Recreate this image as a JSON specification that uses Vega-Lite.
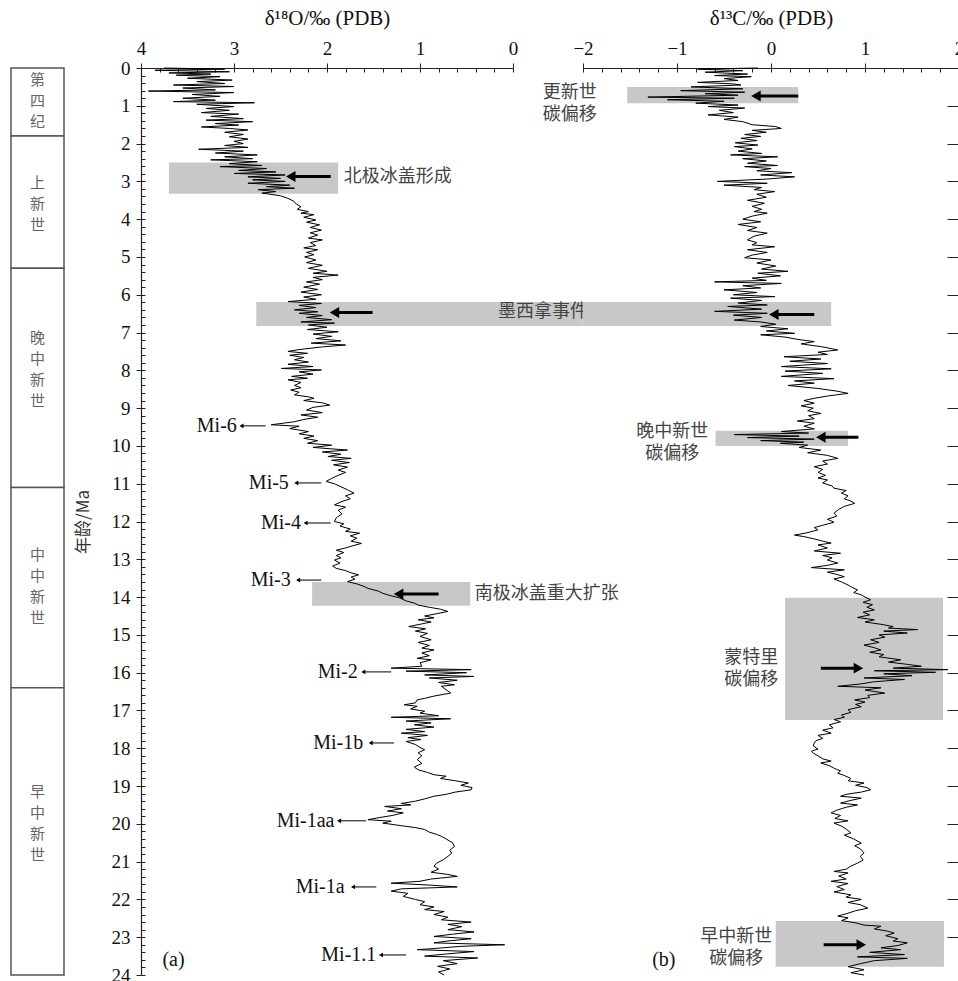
{
"$schema": "https://vega.github.io/schema/vega-lite/v6.json",
"padding": {"left": 10, "top": 7, "right": 0, "bottom": 0},
"autosize": {"type": "pad"},
"background": "white",
"config": {
  "view": {"stroke": null},
  "font": "Liberation Serif",
  "axis": {"domainColor": "#222", "tickColor": "#222", "labelColor": "#111", "titleColor": "#111", "labelFont": "Liberation Serif", "titleFont": "Liberation Serif", "labelFontSize": 19, "titleFontSize": 21, "titleFontWeight": "normal", "grid": false, "domainWidth": 1.2, "tickWidth": 1, "labelFlush": false, "labelOverlap": false}
},
"datasets": {
  "epochs": [
    {"s": 0, "e": 1.8, "m": 0.32, "t": "第\n四\n纪"},
    {"s": 1.8, "e": 5.3, "m": 3.04, "t": "上\n新\n世"},
    {"s": 5.3, "e": 11.1, "m": 7.14, "t": "晚\n中\n新\n世"},
    {"s": 11.1, "e": 16.4, "m": 12.88, "t": "中\n中\n新\n世"},
    {"s": 16.4, "e": 24, "m": 19.15, "t": "早\n中\n新\n世"}
  ],
  "bandsA": [
    {"x1": 3.70, "x2": 1.88, "y1": 2.5, "y2": 3.33},
    {"x1": 2.76, "x2": -0.75, "y1": 6.19, "y2": 6.83},
    {"x1": 2.16, "x2": 0.46, "y1": 13.6, "y2": 14.23}
  ],
  "bandsB": [
    {"x1": -1.53, "x2": 0.29, "y1": 0.5, "y2": 0.93},
    {"x1": -2.0, "x2": 0.64, "y1": 6.19, "y2": 6.83},
    {"x1": -0.59, "x2": 0.82, "y1": 9.6, "y2": 10.0},
    {"x1": 0.15, "x2": 1.83, "y1": 14.02, "y2": 17.25},
    {"x1": 0.05, "x2": 1.84, "y1": 22.57, "y2": 23.78}
  ],
  "arrowsA": [
    {"a": 2.87, "tail": 1.96, "head": 2.39},
    {"a": 6.47, "tail": 1.51, "head": 1.92},
    {"a": 13.92, "tail": 0.80, "head": 1.23}
  ],
  "arrowsB": [
    {"a": 0.74, "tail": 0.29, "head": -0.16, "dir": "l"},
    {"a": 6.52, "tail": 0.46, "head": 0.03, "dir": "l"},
    {"a": 9.77, "tail": 0.93, "head": 0.53, "dir": "l"},
    {"a": 15.88, "tail": 0.53, "head": 0.93, "dir": "r"},
    {"a": 23.2, "tail": 0.56, "head": 0.96, "dir": "r"}
  ],
  "mi": [
    {"t": "Mi-6", "a": 9.47, "tail": 2.66, "head": 2.92, "tx": 2.97},
    {"t": "Mi-5", "a": 10.98, "tail": 2.06, "head": 2.33, "tx": 2.41},
    {"t": "Mi-4", "a": 12.04, "tail": 1.96, "head": 2.23, "tx": 2.28},
    {"t": "Mi-3", "a": 13.55, "tail": 2.06, "head": 2.31, "tx": 2.39},
    {"t": "Mi-2", "a": 15.98, "tail": 1.31, "head": 1.61, "tx": 1.67},
    {"t": "Mi-1b", "a": 17.86, "tail": 1.28, "head": 1.53, "tx": 1.61},
    {"t": "Mi-1aa", "a": 19.92, "tail": 1.58, "head": 1.87, "tx": 1.92},
    {"t": "Mi-1a", "a": 21.67, "tail": 1.47, "head": 1.72, "tx": 1.81},
    {"t": "Mi-1.1", "a": 23.47, "tail": 1.15, "head": 1.42, "tx": 1.47}
  ],
  "labelsA": [
    {"x": 1.82, "a": 2.88, "t": "北极冰盖形成"},
    {"x": 0.16, "a": 6.46, "t": "墨西拿事件"},
    {"x": 0.41, "a": 13.92, "t": "南极冰盖重大扩张"}
  ],
  "labelsB": [
    {"x": -2.14, "a": 0.66, "t": "更新世\n碳偏移"},
    {"x": -1.05, "a": 9.63, "t": "晚中新世\n碳偏移"},
    {"x": -0.21, "a": 15.61, "t": "蒙特里\n碳偏移"},
    {"x": -0.37, "a": 22.99, "t": "早中新世\n碳偏移"}
  ],
  "o18": [
    {"a":0.00,"v":3.75},{"a":0.03,"v":3.10},{"a":0.06,"v":3.85},{"a":0.10,"v":3.05},{"a":0.13,"v":3.70},{"a":0.16,"v":3.25},{"a":0.19,"v":3.62},{"a":0.23,"v":3.15},{"a":0.27,"v":3.50},{"a":0.32,"v":3.02},
    {"a":0.36,"v":3.40},{"a":0.41,"v":3.10},{"a":0.45,"v":3.65},{"a":0.49,"v":3.00},{"a":0.53,"v":3.55},{"a":0.58,"v":3.20},{"a":0.61,"v":3.92},{"a":0.65,"v":3.00},{"a":0.70,"v":3.45},{"a":0.75,"v":3.15},
    {"a":0.80,"v":3.55},{"a":0.85,"v":3.20},{"a":0.89,"v":3.65},{"a":0.92,"v":2.78},{"a":0.96,"v":3.40},{"a":1.02,"v":3.00},{"a":1.07,"v":3.30},{"a":1.12,"v":3.05},{"a":1.18,"v":3.35},{"a":1.22,"v":2.95},
    {"a":1.28,"v":3.25},{"a":1.34,"v":2.90},{"a":1.38,"v":3.30},{"a":1.42,"v":2.80},{"a":1.47,"v":3.20},{"a":1.51,"v":2.95},{"a":1.56,"v":3.35},{"a":1.60,"v":3.05},{"a":1.64,"v":2.85},{"a":1.70,"v":3.10},
    {"a":1.76,"v":2.90},{"a":1.82,"v":3.05},{"a":1.88,"v":2.85},{"a":1.94,"v":3.00},{"a":2.00,"v":2.90},{"a":2.05,"v":3.10},{"a":2.10,"v":2.85},{"a":2.15,"v":3.38},{"a":2.20,"v":2.90},{"a":2.25,"v":3.20},
    {"a":2.30,"v":2.75},{"a":2.35,"v":3.10},{"a":2.40,"v":2.80},{"a":2.43,"v":3.25},{"a":2.48,"v":2.75},{"a":2.53,"v":3.05},{"a":2.58,"v":2.70},{"a":2.61,"v":3.15},{"a":2.66,"v":2.65},{"a":2.71,"v":2.95},
    {"a":2.75,"v":2.55},{"a":2.79,"v":3.00},{"a":2.83,"v":2.45},{"a":2.88,"v":2.85},{"a":2.92,"v":2.50},{"a":2.96,"v":2.80},{"a":3.00,"v":2.45},{"a":3.05,"v":2.85},{"a":3.10,"v":2.40},{"a":3.14,"v":2.65},
    {"a":3.18,"v":2.35},{"a":3.22,"v":2.74},{"a":3.27,"v":2.55},{"a":3.31,"v":2.70},{"a":3.38,"v":2.50},{"a":3.45,"v":2.42},{"a":3.52,"v":2.36},{"a":3.60,"v":2.33},{"a":3.67,"v":2.28},{"a":3.74,"v":2.32},
    {"a":3.80,"v":2.20},{"a":3.84,"v":2.28},{"a":3.88,"v":2.14},{"a":3.95,"v":2.25},{"a":4.02,"v":2.12},{"a":4.08,"v":2.22},{"a":4.15,"v":2.08},{"a":4.22,"v":2.18},{"a":4.29,"v":2.06},{"a":4.36,"v":2.18},
    {"a":4.42,"v":2.10},{"a":4.50,"v":2.20},{"a":4.55,"v":2.05},{"a":4.62,"v":2.18},{"a":4.70,"v":2.12},{"a":4.76,"v":2.25},{"a":4.81,"v":2.10},{"a":4.88,"v":2.22},{"a":4.94,"v":2.14},{"a":5.00,"v":2.24},
    {"a":5.08,"v":2.12},{"a":5.15,"v":2.22},{"a":5.22,"v":2.05},{"a":5.30,"v":2.20},{"a":5.38,"v":2.00},{"a":5.43,"v":2.15},{"a":5.48,"v":1.88},{"a":5.54,"v":2.15},{"a":5.60,"v":2.05},{"a":5.66,"v":2.22},
    {"a":5.72,"v":2.08},{"a":5.80,"v":2.25},{"a":5.86,"v":2.10},{"a":5.93,"v":2.28},{"a":6.00,"v":2.06},{"a":6.06,"v":2.25},{"a":6.12,"v":2.12},{"a":6.18,"v":2.42},{"a":6.23,"v":2.06},{"a":6.28,"v":2.30},
    {"a":6.34,"v":2.12},{"a":6.40,"v":2.35},{"a":6.45,"v":2.10},{"a":6.49,"v":2.30},{"a":6.55,"v":2.05},{"a":6.60,"v":2.22},{"a":6.66,"v":1.95},{"a":6.72,"v":2.28},{"a":6.75,"v":1.92},{"a":6.80,"v":2.20},
    {"a":6.86,"v":2.00},{"a":6.92,"v":2.21},{"a":6.98,"v":1.88},{"a":7.04,"v":2.15},{"a":7.10,"v":1.95},{"a":7.16,"v":2.12},{"a":7.22,"v":1.85},{"a":7.28,"v":2.17},{"a":7.33,"v":1.80},{"a":7.38,"v":2.05},
    {"a":7.45,"v":2.30},{"a":7.50,"v":2.42},{"a":7.55,"v":2.21},{"a":7.60,"v":2.40},{"a":7.66,"v":2.25},{"a":7.72,"v":2.35},{"a":7.78,"v":2.20},{"a":7.84,"v":2.42},{"a":7.90,"v":2.15},{"a":7.95,"v":2.49},
    {"a":7.99,"v":2.06},{"a":8.04,"v":2.30},{"a":8.10,"v":2.15},{"a":8.16,"v":2.38},{"a":8.21,"v":2.21},{"a":8.25,"v":2.42},{"a":8.32,"v":2.28},{"a":8.40,"v":2.35},{"a":8.46,"v":2.28},{"a":8.52,"v":2.39},
    {"a":8.58,"v":2.30},{"a":8.65,"v":2.35},{"a":8.70,"v":2.20},{"a":8.74,"v":2.14},{"a":8.80,"v":2.25},{"a":8.86,"v":2.05},{"a":8.92,"v":1.97},{"a":8.98,"v":2.15},{"a":9.05,"v":2.22},{"a":9.12,"v":2.05},
    {"a":9.18,"v":2.28},{"a":9.24,"v":2.10},{"a":9.30,"v":2.25},{"a":9.36,"v":2.35},{"a":9.44,"v":2.60},{"a":9.48,"v":2.30},{"a":9.54,"v":2.40},{"a":9.62,"v":2.20},{"a":9.68,"v":2.30},{"a":9.74,"v":2.14},
    {"a":9.80,"v":2.25},{"a":9.86,"v":2.10},{"a":9.93,"v":2.21},{"a":9.98,"v":1.95},{"a":10.04,"v":2.15},{"a":10.11,"v":1.78},{"a":10.16,"v":2.05},{"a":10.22,"v":1.85},{"a":10.28,"v":1.99},{"a":10.33,"v":1.74},
    {"a":10.38,"v":1.95},{"a":10.44,"v":1.76},{"a":10.50,"v":1.93},{"a":10.56,"v":1.78},{"a":10.64,"v":1.88},{"a":10.70,"v":1.80},{"a":10.78,"v":1.88},{"a":10.86,"v":1.95},{"a":10.94,"v":2.01},{"a":11.00,"v":1.92},
    {"a":11.08,"v":1.85},{"a":11.16,"v":1.78},{"a":11.25,"v":1.71},{"a":11.32,"v":1.80},{"a":11.40,"v":1.75},{"a":11.48,"v":1.85},{"a":11.56,"v":1.92},{"a":11.62,"v":1.80},{"a":11.70,"v":1.88},{"a":11.80,"v":1.84},
    {"a":11.90,"v":1.90},{"a":12.00,"v":1.92},{"a":12.06,"v":1.82},{"a":12.12,"v":1.86},{"a":12.20,"v":1.75},{"a":12.26,"v":1.80},{"a":12.31,"v":1.65},{"a":12.38,"v":1.75},{"a":12.44,"v":1.68},{"a":12.52,"v":1.74},
    {"a":12.58,"v":1.63},{"a":12.64,"v":1.72},{"a":12.70,"v":1.80},{"a":12.76,"v":1.90},{"a":12.82,"v":1.82},{"a":12.90,"v":1.90},{"a":12.96,"v":1.85},{"a":13.02,"v":1.92},{"a":13.10,"v":1.86},{"a":13.18,"v":1.94},
    {"a":13.24,"v":1.90},{"a":13.30,"v":1.80},{"a":13.36,"v":1.74},{"a":13.41,"v":1.66},{"a":13.47,"v":1.74},{"a":13.53,"v":1.70},{"a":13.59,"v":1.78},{"a":13.65,"v":1.68},{"a":13.72,"v":1.60},{"a":13.77,"v":1.56},
    {"a":13.84,"v":1.45},{"a":13.90,"v":1.40},{"a":13.96,"v":1.32},{"a":14.02,"v":1.22},{"a":14.10,"v":1.15},{"a":14.16,"v":1.06},{"a":14.21,"v":1.02},{"a":14.27,"v":0.90},{"a":14.32,"v":0.78},{"a":14.38,"v":0.70},
    {"a":14.44,"v":0.82},{"a":14.50,"v":0.95},{"a":14.55,"v":0.85},{"a":14.60,"v":1.02},{"a":14.66,"v":0.88},{"a":14.72,"v":1.00},{"a":14.78,"v":1.12},{"a":14.84,"v":0.94},{"a":14.90,"v":1.05},{"a":14.96,"v":0.92},
    {"a":15.04,"v":1.00},{"a":15.13,"v":0.88},{"a":15.20,"v":1.02},{"a":15.28,"v":0.90},{"a":15.35,"v":0.98},{"a":15.40,"v":0.85},{"a":15.48,"v":0.98},{"a":15.55,"v":0.90},{"a":15.62,"v":1.03},{"a":15.66,"v":0.88},
    {"a":15.74,"v":1.00},{"a":15.83,"v":0.98},{"a":15.88,"v":1.31},{"a":15.92,"v":0.45},{"a":15.96,"v":1.15},{"a":16.00,"v":0.50},{"a":16.06,"v":0.95},{"a":16.10,"v":0.42},{"a":16.14,"v":0.90},{"a":16.20,"v":0.60},
    {"a":16.26,"v":0.80},{"a":16.32,"v":0.63},{"a":16.36,"v":0.77},{"a":16.45,"v":0.72},{"a":16.54,"v":0.67},{"a":16.62,"v":0.85},{"a":16.68,"v":0.95},{"a":16.72,"v":1.03},{"a":16.80,"v":1.05},{"a":16.85,"v":1.17},
    {"a":16.89,"v":1.03},{"a":16.96,"v":1.10},{"a":17.02,"v":0.95},{"a":17.07,"v":1.00},{"a":17.14,"v":0.80},{"a":17.18,"v":1.31},{"a":17.22,"v":0.67},{"a":17.28,"v":1.15},{"a":17.33,"v":0.88},{"a":17.38,"v":1.06},
    {"a":17.44,"v":0.85},{"a":17.50,"v":1.15},{"a":17.56,"v":0.95},{"a":17.60,"v":1.20},{"a":17.66,"v":0.92},{"a":17.72,"v":1.13},{"a":17.77,"v":0.99},{"a":17.82,"v":1.15},{"a":17.90,"v":1.05},{"a":17.98,"v":1.00},
    {"a":18.04,"v":0.95},{"a":18.12,"v":1.02},{"a":18.20,"v":0.98},{"a":18.30,"v":1.03},{"a":18.40,"v":0.98},{"a":18.50,"v":1.06},{"a":18.57,"v":1.02},{"a":18.64,"v":0.92},{"a":18.70,"v":0.85},{"a":18.74,"v":0.72},
    {"a":18.80,"v":0.78},{"a":18.86,"v":0.62},{"a":18.92,"v":0.48},{"a":18.98,"v":0.56},{"a":19.04,"v":0.44},{"a":19.10,"v":0.45},{"a":19.16,"v":0.62},{"a":19.22,"v":0.72},{"a":19.27,"v":0.85},{"a":19.34,"v":0.95},
    {"a":19.40,"v":1.05},{"a":19.46,"v":1.20},{"a":19.50,"v":1.10},{"a":19.54,"v":1.38},{"a":19.60,"v":1.20},{"a":19.66,"v":1.35},{"a":19.71,"v":1.18},{"a":19.78,"v":1.30},{"a":19.84,"v":1.45},{"a":19.89,"v":1.56},
    {"a":19.93,"v":1.31},{"a":19.98,"v":1.40},{"a":20.05,"v":1.20},{"a":20.10,"v":1.05},{"a":20.15,"v":0.95},{"a":20.22,"v":0.90},{"a":20.28,"v":0.82},{"a":20.33,"v":0.77},{"a":20.40,"v":0.72},{"a":20.50,"v":0.65},
    {"a":20.60,"v":0.63},{"a":20.70,"v":0.68},{"a":20.78,"v":0.66},{"a":20.86,"v":0.70},{"a":20.95,"v":0.75},{"a":21.04,"v":0.82},{"a":21.12,"v":0.85},{"a":21.20,"v":0.80},{"a":21.28,"v":0.88},{"a":21.34,"v":0.70},
    {"a":21.39,"v":0.60},{"a":21.46,"v":0.88},{"a":21.52,"v":1.00},{"a":21.57,"v":1.31},{"a":21.62,"v":0.90},{"a":21.67,"v":0.60},{"a":21.72,"v":1.20},{"a":21.78,"v":1.31},{"a":21.84,"v":1.13},{"a":21.92,"v":1.18},
    {"a":22.00,"v":1.05},{"a":22.06,"v":0.95},{"a":22.14,"v":1.00},{"a":22.20,"v":0.85},{"a":22.27,"v":0.95},{"a":22.32,"v":0.74},{"a":22.40,"v":0.85},{"a":22.47,"v":0.70},{"a":22.54,"v":0.77},{"a":22.60,"v":0.45},
    {"a":22.66,"v":0.70},{"a":22.72,"v":0.55},{"a":22.80,"v":0.70},{"a":22.86,"v":0.42},{"a":22.92,"v":0.65},{"a":22.98,"v":0.85},{"a":23.04,"v":0.45},{"a":23.10,"v":0.70},{"a":23.15,"v":0.85},{"a":23.20,"v":0.09},
    {"a":23.24,"v":0.55},{"a":23.30,"v":0.85},{"a":23.33,"v":1.03},{"a":23.38,"v":0.42},{"a":23.44,"v":0.70},{"a":23.50,"v":0.95},{"a":23.55,"v":0.38},{"a":23.62,"v":0.75},{"a":23.70,"v":0.60},{"a":23.77,"v":0.81},
    {"a":23.84,"v":0.68},{"a":23.92,"v":0.80},{"a":24.00,"v":0.74}
  ],
  "c13": [
    {"a":0.00,"v":-0.14},{"a":0.03,"v":-0.78},{"a":0.07,"v":-0.30},{"a":0.11,"v":-0.70},{"a":0.16,"v":-0.25},{"a":0.20,"v":-0.60},{"a":0.23,"v":-0.21},{"a":0.28,"v":-0.50},{"a":0.33,"v":-0.35},{"a":0.38,"v":-0.78},
    {"a":0.42,"v":-0.40},{"a":0.45,"v":-0.32},{"a":0.50,"v":-0.85},{"a":0.55,"v":-0.30},{"a":0.60,"v":-0.96},{"a":0.64,"v":-0.28},{"a":0.68,"v":-0.70},{"a":0.72,"v":-0.35},{"a":0.77,"v":-1.31},{"a":0.80,"v":-0.39},
    {"a":0.84,"v":-1.10},{"a":0.88,"v":-0.50},{"a":0.93,"v":-0.80},{"a":0.98,"v":-0.35},{"a":1.02,"v":-0.67},{"a":1.06,"v":-0.28},{"a":1.12,"v":-0.55},{"a":1.18,"v":-0.40},{"a":1.24,"v":-0.67},{"a":1.30,"v":-0.35},
    {"a":1.36,"v":-0.50},{"a":1.42,"v":-0.30},{"a":1.50,"v":-0.20},{"a":1.55,"v":0.05},{"a":1.60,"v":0.11},{"a":1.65,"v":-0.20},{"a":1.70,"v":-0.05},{"a":1.76,"v":-0.28},{"a":1.81,"v":-0.11},{"a":1.86,"v":-0.32},
    {"a":1.92,"v":-0.15},{"a":1.98,"v":-0.38},{"a":2.04,"v":-0.14},{"a":2.08,"v":-0.39},{"a":2.14,"v":-0.20},{"a":2.20,"v":-0.35},{"a":2.26,"v":-0.10},{"a":2.30,"v":-0.43},{"a":2.35,"v":0.07},{"a":2.40,"v":-0.30},
    {"a":2.46,"v":-0.05},{"a":2.52,"v":-0.25},{"a":2.58,"v":0.07},{"a":2.61,"v":-0.28},{"a":2.66,"v":0.00},{"a":2.72,"v":-0.15},{"a":2.77,"v":0.22},{"a":2.83,"v":-0.11},{"a":2.88,"v":0.25},{"a":2.94,"v":-0.05},
    {"a":3.00,"v":-0.57},{"a":3.05,"v":-0.04},{"a":3.10,"v":-0.50},{"a":3.16,"v":-0.10},{"a":3.22,"v":-0.18},{"a":3.27,"v":0.04},{"a":3.34,"v":-0.15},{"a":3.42,"v":-0.05},{"a":3.50,"v":-0.25},{"a":3.58,"v":-0.07},
    {"a":3.66,"v":-0.20},{"a":3.74,"v":-0.10},{"a":3.80,"v":-0.18},{"a":3.84,"v":-0.04},{"a":3.92,"v":-0.20},{"a":4.00,"v":-0.30},{"a":4.07,"v":-0.11},{"a":4.14,"v":-0.35},{"a":4.22,"v":-0.15},{"a":4.30,"v":-0.25},
    {"a":4.37,"v":-0.04},{"a":4.45,"v":-0.18},{"a":4.55,"v":-0.25},{"a":4.62,"v":-0.15},{"a":4.68,"v":-0.20},{"a":4.73,"v":0.04},{"a":4.81,"v":-0.25},{"a":4.88,"v":-0.04},{"a":4.95,"v":-0.20},{"a":5.02,"v":-0.28},
    {"a":5.08,"v":0.00},{"a":5.16,"v":-0.15},{"a":5.24,"v":0.05},{"a":5.32,"v":-0.10},{"a":5.38,"v":0.18},{"a":5.43,"v":-0.14},{"a":5.50,"v":0.10},{"a":5.56,"v":-0.20},{"a":5.62,"v":-0.05},{"a":5.66,"v":-0.60},
    {"a":5.70,"v":0.11},{"a":5.76,"v":-0.30},{"a":5.82,"v":-0.11},{"a":5.87,"v":-0.50},{"a":5.94,"v":-0.15},{"a":6.00,"v":-0.40},{"a":6.05,"v":0.04},{"a":6.09,"v":-0.43},{"a":6.15,"v":-0.10},{"a":6.22,"v":-0.35},
    {"a":6.27,"v":-0.04},{"a":6.31,"v":-0.46},{"a":6.38,"v":-0.10},{"a":6.44,"v":-0.60},{"a":6.49,"v":-0.04},{"a":6.54,"v":-0.40},{"a":6.60,"v":-0.10},{"a":6.67,"v":-0.39},{"a":6.72,"v":-0.11},{"a":6.78,"v":0.05},
    {"a":6.84,"v":-0.11},{"a":6.90,"v":0.18},{"a":6.96,"v":-0.05},{"a":7.02,"v":0.25},{"a":7.06,"v":-0.11},{"a":7.12,"v":0.15},{"a":7.18,"v":0.28},{"a":7.24,"v":0.46},{"a":7.30,"v":0.32},{"a":7.38,"v":0.55},
    {"a":7.46,"v":0.71},{"a":7.52,"v":0.50},{"a":7.58,"v":0.60},{"a":7.64,"v":0.14},{"a":7.70,"v":0.53},{"a":7.76,"v":0.20},{"a":7.82,"v":0.60},{"a":7.90,"v":0.11},{"a":7.96,"v":0.64},{"a":8.02,"v":0.15},
    {"a":8.08,"v":0.55},{"a":8.16,"v":0.11},{"a":8.22,"v":0.67},{"a":8.28,"v":0.25},{"a":8.34,"v":0.46},{"a":8.40,"v":0.18},{"a":8.48,"v":0.50},{"a":8.55,"v":0.70},{"a":8.61,"v":0.82},{"a":8.68,"v":0.60},
    {"a":8.74,"v":0.46},{"a":8.80,"v":0.35},{"a":8.87,"v":0.46},{"a":8.94,"v":0.32},{"a":9.00,"v":0.45},{"a":9.07,"v":0.39},{"a":9.14,"v":0.53},{"a":9.20,"v":0.40},{"a":9.28,"v":0.46},{"a":9.34,"v":0.28},
    {"a":9.40,"v":0.46},{"a":9.48,"v":0.35},{"a":9.55,"v":0.46},{"a":9.62,"v":0.11},{"a":9.66,"v":0.40},{"a":9.70,"v":-0.39},{"a":9.74,"v":0.30},{"a":9.78,"v":-0.25},{"a":9.82,"v":0.46},{"a":9.86,"v":-0.11},
    {"a":9.90,"v":0.35},{"a":9.93,"v":0.10},{"a":9.98,"v":0.39},{"a":10.04,"v":0.30},{"a":10.11,"v":0.53},{"a":10.18,"v":0.39},{"a":10.25,"v":0.60},{"a":10.33,"v":0.71},{"a":10.40,"v":0.55},{"a":10.48,"v":0.60},
    {"a":10.55,"v":0.46},{"a":10.62,"v":0.55},{"a":10.70,"v":0.50},{"a":10.78,"v":0.58},{"a":10.85,"v":0.50},{"a":10.90,"v":0.60},{"a":10.98,"v":0.55},{"a":11.06,"v":0.65},{"a":11.12,"v":0.67},{"a":11.18,"v":0.80},
    {"a":11.25,"v":0.75},{"a":11.32,"v":0.82},{"a":11.40,"v":0.78},{"a":11.46,"v":0.85},{"a":11.52,"v":0.89},{"a":11.60,"v":0.78},{"a":11.68,"v":0.72},{"a":11.78,"v":0.67},{"a":11.86,"v":0.70},{"a":11.94,"v":0.60},
    {"a":12.02,"v":0.67},{"a":12.10,"v":0.55},{"a":12.16,"v":0.46},{"a":12.22,"v":0.50},{"a":12.30,"v":0.38},{"a":12.36,"v":0.25},{"a":12.40,"v":0.35},{"a":12.46,"v":0.46},{"a":12.52,"v":0.55},{"a":12.57,"v":0.64},
    {"a":12.62,"v":0.50},{"a":12.70,"v":0.60},{"a":12.78,"v":0.46},{"a":12.84,"v":0.74},{"a":12.90,"v":0.55},{"a":12.96,"v":0.65},{"a":13.02,"v":0.60},{"a":13.10,"v":0.71},{"a":13.16,"v":0.60},{"a":13.22,"v":0.43},
    {"a":13.28,"v":0.78},{"a":13.34,"v":0.60},{"a":13.40,"v":0.70},{"a":13.46,"v":0.78},{"a":13.52,"v":0.67},{"a":13.60,"v":0.75},{"a":13.68,"v":0.82},{"a":13.74,"v":0.86},{"a":13.81,"v":0.92},{"a":13.88,"v":0.88},
    {"a":13.94,"v":0.96},{"a":14.00,"v":1.00},{"a":14.07,"v":1.06},{"a":14.14,"v":0.98},{"a":14.20,"v":1.08},{"a":14.27,"v":1.02},{"a":14.34,"v":1.10},{"a":14.40,"v":0.98},{"a":14.47,"v":1.05},{"a":14.54,"v":0.92},
    {"a":14.60,"v":1.10},{"a":14.66,"v":1.00},{"a":14.72,"v":1.17},{"a":14.78,"v":1.30},{"a":14.82,"v":1.25},{"a":14.86,"v":1.56},{"a":14.90,"v":1.20},{"a":14.95,"v":1.45},{"a":15.00,"v":1.15},{"a":15.06,"v":1.21},
    {"a":15.13,"v":1.06},{"a":15.20,"v":1.15},{"a":15.27,"v":0.99},{"a":15.34,"v":1.10},{"a":15.40,"v":1.17},{"a":15.46,"v":1.05},{"a":15.52,"v":1.20},{"a":15.58,"v":1.15},{"a":15.66,"v":1.38},{"a":15.72,"v":1.25},
    {"a":15.78,"v":1.45},{"a":15.83,"v":1.60},{"a":15.88,"v":1.30},{"a":15.92,"v":1.88},{"a":15.95,"v":1.10},{"a":15.99,"v":1.75},{"a":16.03,"v":1.20},{"a":16.08,"v":1.50},{"a":16.14,"v":0.99},{"a":16.18,"v":1.42},
    {"a":16.24,"v":1.10},{"a":16.30,"v":0.95},{"a":16.36,"v":0.71},{"a":16.40,"v":1.17},{"a":16.46,"v":1.00},{"a":16.54,"v":1.21},{"a":16.60,"v":1.03},{"a":16.66,"v":1.05},{"a":16.72,"v":0.89},{"a":16.78,"v":1.00},
    {"a":16.84,"v":0.90},{"a":16.90,"v":0.96},{"a":16.98,"v":0.82},{"a":17.05,"v":0.85},{"a":17.12,"v":0.75},{"a":17.18,"v":0.78},{"a":17.24,"v":0.67},{"a":17.30,"v":0.74},{"a":17.38,"v":0.62},{"a":17.46,"v":0.66},
    {"a":17.52,"v":0.55},{"a":17.60,"v":0.64},{"a":17.66,"v":0.50},{"a":17.74,"v":0.55},{"a":17.80,"v":0.48},{"a":17.86,"v":0.46},{"a":17.94,"v":0.45},{"a":18.02,"v":0.50},{"a":18.08,"v":0.43},{"a":18.13,"v":0.45},
    {"a":18.20,"v":0.50},{"a":18.28,"v":0.55},{"a":18.34,"v":0.64},{"a":18.39,"v":0.53},{"a":18.46,"v":0.62},{"a":18.54,"v":0.68},{"a":18.60,"v":0.74},{"a":18.66,"v":0.71},{"a":18.72,"v":0.78},{"a":18.80,"v":0.85},
    {"a":18.86,"v":0.82},{"a":18.92,"v":0.99},{"a":18.98,"v":0.90},{"a":19.04,"v":1.02},{"a":19.10,"v":1.06},{"a":19.16,"v":0.96},{"a":19.22,"v":0.80},{"a":19.27,"v":0.74},{"a":19.32,"v":0.96},{"a":19.38,"v":0.85},
    {"a":19.45,"v":0.74},{"a":19.50,"v":0.92},{"a":19.56,"v":0.80},{"a":19.64,"v":0.70},{"a":19.71,"v":0.64},{"a":19.78,"v":0.74},{"a":19.86,"v":0.68},{"a":19.92,"v":0.82},{"a":19.98,"v":0.67},{"a":20.06,"v":0.75},
    {"a":20.14,"v":0.80},{"a":20.24,"v":0.85},{"a":20.30,"v":0.78},{"a":20.40,"v":0.88},{"a":20.51,"v":0.96},{"a":20.58,"v":0.89},{"a":20.66,"v":0.95},{"a":20.77,"v":0.99},{"a":20.86,"v":0.95},{"a":20.96,"v":0.98},
    {"a":21.04,"v":0.92},{"a":21.12,"v":0.85},{"a":21.20,"v":0.80},{"a":21.26,"v":0.67},{"a":21.30,"v":0.82},{"a":21.38,"v":0.72},{"a":21.46,"v":0.80},{"a":21.52,"v":0.64},{"a":21.58,"v":0.82},{"a":21.66,"v":0.70},
    {"a":21.74,"v":0.78},{"a":21.80,"v":0.67},{"a":21.88,"v":0.85},{"a":21.94,"v":0.80},{"a":22.00,"v":0.96},{"a":22.08,"v":0.82},{"a":22.14,"v":0.95},{"a":22.23,"v":1.03},{"a":22.30,"v":0.90},{"a":22.38,"v":0.80},
    {"a":22.44,"v":0.71},{"a":22.49,"v":0.82},{"a":22.56,"v":0.75},{"a":22.62,"v":0.90},{"a":22.68,"v":0.99},{"a":22.71,"v":1.17},{"a":22.78,"v":1.10},{"a":22.84,"v":1.24},{"a":22.89,"v":1.31},{"a":22.96,"v":1.22},
    {"a":23.04,"v":1.35},{"a":23.10,"v":1.30},{"a":23.15,"v":1.45},{"a":23.22,"v":1.35},{"a":23.28,"v":1.17},{"a":23.33,"v":1.38},{"a":23.40,"v":1.05},{"a":23.46,"v":1.42},{"a":23.52,"v":0.92},{"a":23.56,"v":1.45},
    {"a":23.62,"v":1.10},{"a":23.70,"v":0.95},{"a":23.78,"v":0.82},{"a":23.86,"v":0.99},{"a":23.94,"v":0.85},{"a":24.00,"v":0.99}
  ]
},
"bounds": "flush",
"spacing": 77,
"hconcat": [
  {
    "width": 53, "height": 907,
    "data": {"name": "epochs"},
    "layer": [
      {"mark": {"type": "rect", "fill": "white", "stroke": "#555", "strokeWidth": 1.5},
       "encoding": {
         "x": {"datum": 0, "type": "quantitative", "scale": {"domain": [0, 1], "nice": false, "zero": false}, "axis": null},
         "x2": {"datum": 1},
         "y": {"field": "s", "type": "quantitative", "scale": {"domain": [0, 24], "reverse": true, "nice": false, "zero": false}, "axis": null},
         "y2": {"field": "e"}}},
      {"mark": {"type": "text", "font": "Noto Sans CJK SC", "fontSize": 15, "color": "#666", "lineBreak": "\n", "lineHeight": 21, "baseline": "middle", "align": "center"},
       "encoding": {
         "x": {"datum": 0.5, "type": "quantitative", "scale": {"domain": [0, 1], "nice": false, "zero": false}, "axis": null},
         "y": {"field": "m", "type": "quantitative", "scale": {"domain": [0, 24], "reverse": true, "nice": false, "zero": false}, "axis": null},
         "text": {"field": "t"}}}
    ]
  },
  {
    "bounds": "flush",
    "spacing": 70,
    "hconcat": [
      {
        "width": 372, "height": 907,
        "resolve": {"axis": {"x": "independent", "y": "independent"}},
        "layer": [
          {"data": {"name": "bandsA"}, "mark": {"type": "rect", "color": "#c8c8c8"},
           "encoding": {
             "x": {"field": "x1", "type": "quantitative", "scale": {"domain": [0, 4], "reverse": true, "nice": false, "zero": false},
                   "axis": {"orient": "top", "values": [0, 1, 2, 3, 4], "tickSize": 5, "labelPadding": 5, "title": "δ¹⁸O/‰ (PDB)", "titlePadding": 11}},
             "x2": {"field": "x2"},
             "y": {"field": "y1", "type": "quantitative", "scale": {"domain": [0, 24], "reverse": true, "nice": false, "zero": false},
                   "axis": {"orient": "left", "values": [0,1,2,3,4,5,6,7,8,9,10,11,12,13,14,15,16,17,18,19,20,21,22,23,24], "tickSize": 5, "labelPadding": 6, "title": "年龄/Ma", "titleFont": "Noto Sans CJK SC", "titleFontSize": 17, "titleColor": "#333", "titlePadding": 19}},
             "y2": {"field": "y2"}}},
          {"data": {"name": "o18"}, "mark": {"type": "line", "color": "black", "strokeWidth": 1},
           "encoding": {
             "x": {"field": "v", "type": "quantitative", "scale": {"domain": [0, 4], "reverse": true, "nice": false, "zero": false},
                   "axis": {"orient": "top", "tickCount": 20, "tickSize": -4, "labels": false, "domain": false, "title": null}},
             "y": {"field": "a", "type": "quantitative", "scale": {"domain": [0, 24], "reverse": true, "nice": false, "zero": false},
                   "axis": {"orient": "left", "tickCount": 120, "tickSize": -4, "labels": false, "domain": false, "title": null}},
             "order": {"field": "a"}}},
          {"data": {"name": "arrowsA"}, "mark": {"type": "rule", "color": "black", "strokeWidth": 3},
           "encoding": {
             "x": {"field": "tail", "type": "quantitative", "axis": null},
             "x2": {"field": "head"},
             "y": {"field": "a", "type": "quantitative", "axis": null}}},
          {"data": {"name": "arrowsA"}, "mark": {"type": "point", "shape": "triangle-left", "filled": true, "color": "black", "size": 120, "opacity": 1},
           "encoding": {
             "x": {"field": "head", "type": "quantitative", "axis": null},
             "y": {"field": "a", "type": "quantitative", "axis": null}}},
          {"data": {"name": "mi"}, "mark": {"type": "rule", "color": "black", "strokeWidth": 1},
           "encoding": {
             "x": {"field": "tail", "type": "quantitative", "axis": null},
             "x2": {"field": "head"},
             "y": {"field": "a", "type": "quantitative", "axis": null}}},
          {"data": {"name": "mi"}, "mark": {"type": "point", "shape": "triangle-left", "filled": true, "color": "black", "size": 22, "opacity": 1},
           "encoding": {
             "x": {"field": "head", "type": "quantitative", "axis": null},
             "y": {"field": "a", "type": "quantitative", "axis": null}}},
          {"data": {"name": "mi"}, "mark": {"type": "text", "font": "Liberation Serif", "fontSize": 20, "align": "right", "baseline": "middle", "color": "#111"},
           "encoding": {
             "x": {"field": "tx", "type": "quantitative", "axis": null},
             "y": {"field": "a", "type": "quantitative", "axis": null},
             "text": {"field": "t"}}},
          {"data": {"name": "labelsA"}, "mark": {"type": "text", "font": "Noto Sans CJK SC", "fontSize": 18, "align": "left", "baseline": "middle", "color": "#444"},
           "encoding": {
             "x": {"field": "x", "type": "quantitative", "axis": null},
             "y": {"field": "a", "type": "quantitative", "axis": null},
             "text": {"field": "t"}}},
          {"data": {"values": [{"x": 3.65, "a": 23.6, "t": "(a)"}]}, "mark": {"type": "text", "font": "Liberation Serif", "fontSize": 20, "align": "center", "baseline": "middle", "color": "#111"},
           "encoding": {
             "x": {"field": "x", "type": "quantitative", "axis": null},
             "y": {"field": "a", "type": "quantitative", "axis": null},
             "text": {"field": "t"}}}
        ]
      },
      {
        "width": 376, "height": 907,
        "resolve": {"axis": {"x": "independent", "y": "independent"}},
        "layer": [
          {"data": {"name": "bandsB"}, "mark": {"type": "rect", "color": "#c8c8c8"},
           "encoding": {
             "x": {"field": "x1", "type": "quantitative", "scale": {"domain": [-2, 2], "nice": false, "zero": false},
                   "axis": {"orient": "top", "values": [-2, -1, 0, 1, 2], "tickSize": 5, "labelPadding": 5, "title": "δ¹³C/‰ (PDB)", "titlePadding": 11}},
             "x2": {"field": "x2"},
             "y": {"field": "y1", "type": "quantitative", "scale": {"domain": [0, 24], "reverse": true, "nice": false, "zero": false},
                   "axis": {"orient": "right", "values": [1,2,3,4,5,6,7,8,9,10,11,12,13,14,15,16,17,18,19,20,21,22,23], "tickSize": -12, "labels": false, "domain": false, "title": null}},
             "y2": {"field": "y2"}}},
          {"data": {"name": "c13"}, "mark": {"type": "line", "color": "black", "strokeWidth": 1},
           "encoding": {
             "x": {"field": "v", "type": "quantitative", "scale": {"domain": [-2, 2], "nice": false, "zero": false},
                   "axis": {"orient": "top", "tickCount": 20, "tickSize": -4, "labels": false, "domain": false, "title": null}},
             "y": {"field": "a", "type": "quantitative", "scale": {"domain": [0, 24], "reverse": true, "nice": false, "zero": false}, "axis": null},
             "order": {"field": "a"}}},
          {"data": {"name": "arrowsB"}, "mark": {"type": "rule", "color": "black", "strokeWidth": 3},
           "encoding": {
             "x": {"field": "tail", "type": "quantitative", "axis": null},
             "x2": {"field": "head"},
             "y": {"field": "a", "type": "quantitative", "axis": null}}},
          {"data": {"name": "arrowsB"}, "transform": [{"filter": "datum.dir === 'l'"}], "mark": {"type": "point", "shape": "triangle-left", "filled": true, "color": "black", "size": 120, "opacity": 1},
           "encoding": {
             "x": {"field": "head", "type": "quantitative", "axis": null},
             "y": {"field": "a", "type": "quantitative", "axis": null}}},
          {"data": {"name": "arrowsB"}, "transform": [{"filter": "datum.dir === 'r'"}], "mark": {"type": "point", "shape": "triangle-right", "filled": true, "color": "black", "size": 120, "opacity": 1},
           "encoding": {
             "x": {"field": "head", "type": "quantitative", "axis": null},
             "y": {"field": "a", "type": "quantitative", "axis": null}}},
          {"data": {"name": "labelsB"}, "mark": {"type": "text", "font": "Noto Sans CJK SC", "fontSize": 18, "align": "center", "baseline": "middle", "color": "#444", "lineBreak": "\n", "lineHeight": 22},
           "encoding": {
             "x": {"field": "x", "type": "quantitative", "axis": null},
             "y": {"field": "a", "type": "quantitative", "axis": null},
             "text": {"field": "t"}}},
          {"data": {"values": [{"x": -1.14, "a": 23.6, "t": "(b)"}]}, "mark": {"type": "text", "font": "Liberation Serif", "fontSize": 20, "align": "center", "baseline": "middle", "color": "#111"},
           "encoding": {
             "x": {"field": "x", "type": "quantitative", "axis": null},
             "y": {"field": "a", "type": "quantitative", "axis": null},
             "text": {"field": "t"}}}
        ]
      }
    ]
  }
]
}
